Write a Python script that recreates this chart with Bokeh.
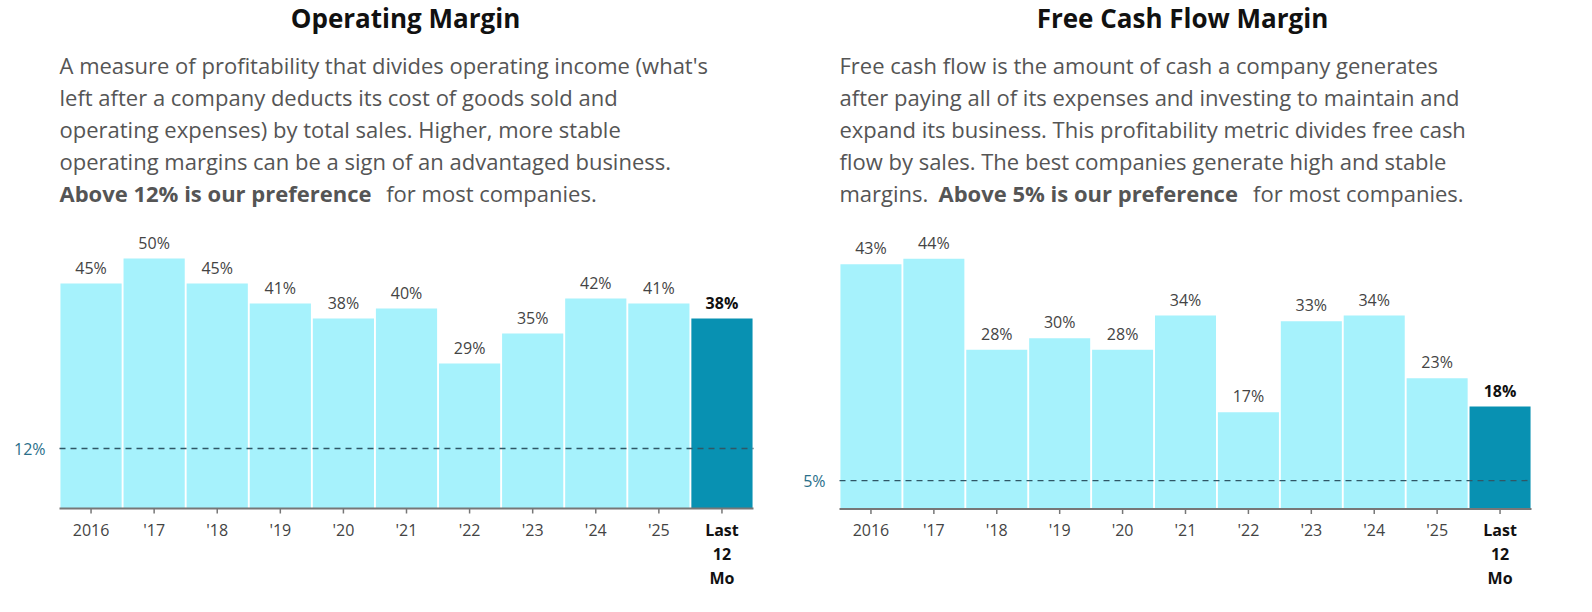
from bokeh.plotting import figure
from bokeh.layouts import row
from bokeh.models import Range1d, ColumnDataSource
from bokeh.core.properties import value
from bokeh.embed import file_html
from bokeh.resources import INLINE

categories = ["2016", "'17", "'18", "'19", "'20", "'21", "'22", "'23", "'24", "'25", "Last\n12\nMo"]
op_margin = [45, 50, 45, 41, 38, 40, 29, 35, 42, 41, 38]
fcf_margin = [43, 44, 28, 30, 28, 34, 17, 33, 34, 23, 18]
op_threshold = 12
fcf_threshold = 5

op_title = "Operating Margin"
op_desc = ["A measure of profitability that divides operating income (what's",
           "left after a company deducts its cost of goods sold and",
           "operating expenses) by total sales. Higher, more stable",
           "operating margins can be a sign of an advantaged business."]
op_bold = ("Above 12% is our preference", " for most companies.")
fcf_title = "Free Cash Flow Margin"
fcf_desc = ["Free cash flow is the amount of cash a company generates",
            "after paying all of its expenses and investing to maintain and",
            "expand its business. This profitability metric divides free cash",
            "flow by sales. The best companies generate high and stable"]
fcf_bold = ("margins. ", "Above 5% is our preference", " for most companies.")

FONT = value("Open Sans")
W, H = 780, 596


def panel(vals, thr, title, desc, last_parts, left_px, bars_l, bars_r, pxper, zero_px, title_cx):
    n = len(vals)
    ux = (bars_r - bars_l) / n
    x0 = -0.5 - (bars_l - left_px) / ux
    x1 = x0 + W / ux
    y1 = (zero_px - 8) / pxper
    y0 = -(8 + H - zero_px) / pxper
    p = figure(width=W, height=H, output_backend="svg", toolbar_location=None,
               x_range=Range1d(x0, x1), y_range=Range1d(y0, y1),
               min_border=0, outline_line_color=None)
    p.axis.visible = False
    p.grid.visible = False

    def px(xp):
        return x0 + (xp - left_px) / ux

    def py(yp):
        return (zero_px - yp) / pxper

    xs = list(range(n))
    colors = ["#a6f2fc"] * (n - 1) + ["#0891b2"]
    src = ColumnDataSource(dict(x=xs, top=vals, c=colors))
    p.vbar(x="x", top="top", bottom=0, width=0.97, fill_color="c", line_color=None, source=src)
    p.segment(x0=[-0.5], y0=[0], x1=[n - 0.5], y1=[0], line_color="#777", line_width=2)
    p.segment(x0=xs, y0=[0] * n, x1=xs, y1=[-5 / pxper] * n, line_color="#777", line_width=1.5)
    p.segment(x0=[-0.5], y0=[thr], x1=[n - 0.5], y1=[thr], line_color="#2f5766",
              line_width=1.3, line_dash="6 5")
    p.text(x=[-0.5 - 14 / ux], y=[thr], text=[f"{thr}%"], text_font=FONT, text_font_size="16px",
           text_color="#2a6f8a", text_align="right", text_baseline="middle")
    lbl = [f"{v}%" for v in vals]
    p.text(x=xs[:-1], y=[v + 16 / pxper for v in vals[:-1]], text=lbl[:-1], text_font=FONT,
           text_font_size="16px", text_color="#444", text_align="center", text_baseline="middle")
    p.text(x=xs[-1:], y=[vals[-1] + 16 / pxper], text=lbl[-1:], text_font=FONT, text_font_size="16px",
           text_font_style="bold", text_color="#111", text_align="center", text_baseline="middle")
    p.text(x=xs[:-1], y=[-21 / pxper] * (n - 1), text=categories[:-1], text_font=FONT,
           text_font_size="16px", text_color="#444", text_align="center", text_baseline="middle")
    for k, part in enumerate(categories[-1].split("\n")):
        p.text(x=[xs[-1]], y=[-(21 + 24 * k) / pxper], text=[part], text_font=FONT,
               text_font_size="16px", text_font_style="bold", text_color="#111",
               text_align="center", text_baseline="middle")
    p.text(x=[px(title_cx)], y=[py(25)], text=[title], text_font=FONT, text_font_size="26px",
           text_font_style="bold", text_color="#111", text_align="center", text_baseline="middle")
    for k, line in enumerate(desc):
        p.text(x=[px(bars_l)], y=[py(72 + 32 * k)], text=[line], text_font=FONT, text_font_size="22px",
               text_color="#555", text_baseline="middle")
    xcur = bars_l
    for part in last_parts:
        bold = part.startswith("Above")
        p.text(x=[px(xcur)], y=[py(200)], text=[part], text_font=FONT, text_font_size="22px",
               text_font_style="bold" if bold else "normal", text_color="#555", text_baseline="middle")
        xcur += len(part) * (12.1 if bold else 11.0)
    return p


p1 = panel(op_margin, op_threshold, op_title, op_desc, op_bold, 8, 67, 761, 5.0, 516, 413)
p2 = panel(fcf_margin, fcf_threshold, fcf_title, fcf_desc, fcf_bold, 788, 847, 1539, 5.69, 516.5, 1190)
lay = row(p1, p2, spacing=0)
open("out.html", "w").write(file_html(lay, INLINE))
